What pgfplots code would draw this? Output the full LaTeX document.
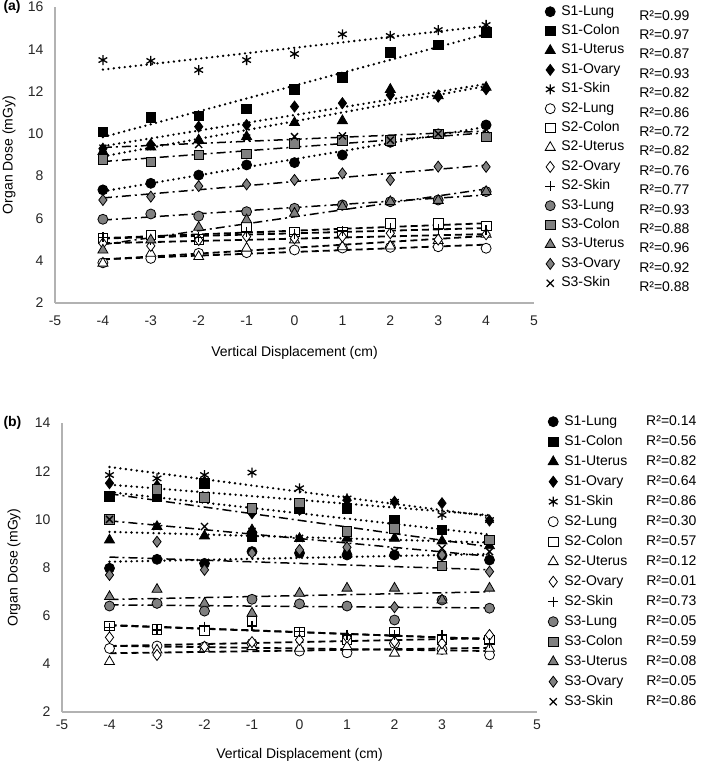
\documentclass[border=0pt]{standalone}
\usepackage{fontspec}
\setmainfont{Liberation Sans}
\usepackage{pgfplots}
\usepackage{pgfplotstable}
\pgfplotsset{compat=1.18}

% panel (a): dose vs displacement
\pgfplotstableread{
x  S1Lung S1Colon S1Uterus S1Ovary S1Skin S2Lung S2Colon S2Uterus S2Ovary S2Skin S3Lung S3Colon S3Uterus S3Ovary S3Skin
-4 7.35 10.10  9.16  9.30 13.49 3.90 5.06 3.88 4.82 5.10 5.96 8.80 4.50 6.87 9.32
-3 7.66 10.78  9.38  9.50 13.45 4.11 5.22 4.35 4.70 5.00 6.21 8.68 4.98 7.03 9.40
-2 8.05 10.84  9.71 10.34 13.02 4.35 5.01 4.19 4.98 5.10 6.11 9.00 5.58 7.53 9.50
-1 8.53 11.18  9.87 10.42 13.49 4.38 5.58 4.59 5.14 5.37 6.32 9.05 5.93 7.61 9.80
 0 8.64 12.11 10.53 11.29 13.78 4.51 5.37 4.98 5.06 5.24 6.48 9.55 6.24 7.82 9.87
 1 9.00 12.68 10.62 11.45 14.71 4.60 5.37 4.66 5.14 5.40 6.64 9.70 6.56 8.13 9.90
 2 9.60 13.86 12.10 11.84 14.63 4.63 5.77 4.69 5.30 5.53 6.79 9.70 6.79 7.82 9.70
 3 10.00 14.20 11.80 11.76 14.91 4.66 5.77 4.95 5.00 5.50 6.87 10.00 6.85 8.45 10.00
 4 10.42 14.79 12.20 12.11 15.15 4.59 5.64 5.25 5.25 5.43 7.27 9.85 7.27 8.44 10.20
}\dataA

% panel (b)
\pgfplotstableread{
x  S1Lung S1Colon S1Uterus S1Ovary S1Skin S2Lung S2Colon S2Uterus S2Ovary S2Skin S3Lung S3Colon S3Uterus S3Ovary S3Skin
-4 7.97 10.94 9.14 11.50 11.84 4.64 5.58 4.09 5.10 5.50 6.40 10.00 6.79 7.69 10.00
-3 8.34 10.94 9.70 11.40 11.70 4.74 5.43 4.57 4.37 5.40 6.51 11.25 7.09 9.07 9.70
-2 8.17 11.50 9.31 11.56 11.84 4.71 5.40 4.64 4.71 5.54 6.19 10.91 6.51 7.90 9.70
-1 8.66 9.28 9.56 10.25 11.94 4.85 5.75 4.71 4.90 5.58 6.68 10.46 6.10 8.60 9.50
 0 8.60 10.46 9.20 10.40 11.29 4.53 5.33 4.64 4.99 5.33 6.49 10.69 6.93 8.73 9.21
 1 8.52 10.46 9.21 10.80 10.87 4.46 5.02 4.71 5.10 5.20 6.40 9.49 7.14 8.84 8.59
 2 8.52 9.97 9.21 10.73 10.73 4.85 5.33 4.44 4.92 5.20 5.82 9.63 7.14 6.35 8.66
 3 8.50 9.56 9.10 10.67 10.18 4.60 5.02 4.53 4.85 5.20 6.65 8.06 6.65 8.52 8.80
 4 8.31 9.14 8.90 9.95 9.97 4.37 5.00 4.64 5.20 4.85 6.31 9.14 7.14 7.83 8.66
}\dataB

\newcommand\fs{\fontsize{14}{16}\selectfont}

% markers plus linear trendline
\newcommand\series[5]{%
  \addplot[#3] table[x=x,y=#2]{#1};
  \addlegendentry{#5}
  \addplot[#4,forget plot] table[x=x,y={create col/linear regression={y=#2}}]{#1};
}

\pgfplotsset{
  blk/.style={only marks, mark options={solid, draw=black, fill=black, line width=0.8pt}},
  opn/.style={only marks, mark options={solid, draw=black, fill=white, line width=0.8pt}},
  gry/.style={only marks, mark options={solid, draw=black, fill=black!50, line width=0.8pt}},
  mc/.style={mark=*, mark size=5pt},
  ms/.style={mark=square*, mark size=4.8pt},
  mt/.style={mark=triangle*, mark size=5.8pt},
  md/.style={mark=diamond*, mark size=5.5pt},
  mk/.style={mark size=5pt, mark options={line width=1.3pt}},
  t1/.style={black, line width=2.6pt, line cap=round, dash pattern=on 0pt off 5.5pt},
  t2/.style={black, line width=1.8pt, dash pattern=on 7pt off 4pt},
  t3/.style={black, line width=1.5pt, dash pattern=on 9pt off 4pt on 2pt off 4pt},
  organ/.style={
    scale only axis, clip=false,
    xmin=-5, xmax=5, xtick={-5,...,5},
    axis x line*=bottom, axis y line*=left,
    axis line style={-, black!30, line width=1.3pt},
    major tick length=0pt,
    tick label style={font=\fs, black!85},
    /pgf/number format/assume math mode=true,
    xlabel={Vertical Displacement (cm)},
    ylabel={Organ Dose (mGy)},
    ylabel style={at={(axis description cs:0,0.5)}, anchor=center, font=\fs},
    xlabel style={at={(axis description cs:0.5,0)}, anchor=center, font=\fs},
    yticklabel style={xshift=-8pt},
    legend image code/.code={\draw[#1] plot coordinates {(5pt,0pt)};},
    legend style={at={(1,1)}, anchor=north west, draw=none, fill=none, font=\fs,
      inner sep=0pt, nodes={inner sep=0pt, text height=10pt, text depth=3pt, anchor=west}},
    legend cell align=left,
  },
}

\begin{document}
\begin{tikzpicture}
\useasboundingbox (0pt,0pt) rectangle (709pt,761pt);
\node[anchor=west, font=\bfseries\fs] at (0pt,754pt) {(a)};
\node[anchor=west, font=\bfseries\fs] at (0pt,338pt) {(b)};

\begin{axis}[organ, at={(55pt,458pt)}, anchor=south west,
    width=479pt, height=296pt, ymin=2, ymax=16, ytick={2,4,...,16},
    xticklabel style={yshift=-9pt},
    xlabel style={yshift=-50pt},
    ylabel style={yshift=46pt},
    legend style={xshift=11pt, yshift=2pt, row sep=6.4pt}]
  \series{\dataA}{S1Lung}{blk, mc}{t1}{\makebox[84pt][l]{\hspace{6pt}S1-Lung}\raisebox{-5pt}[0pt][0pt]{R²=0.99}}
  \series{\dataA}{S1Colon}{blk, ms}{t1}{\makebox[84pt][l]{\hspace{6pt}S1-Colon}\raisebox{-5pt}[0pt][0pt]{R²=0.97}}
  \series{\dataA}{S1Uterus}{blk, mt}{t1}{\makebox[84pt][l]{\hspace{6pt}S1-Uterus}\raisebox{-5pt}[0pt][0pt]{R²=0.87}}
  \series{\dataA}{S1Ovary}{blk, md}{t1}{\makebox[84pt][l]{\hspace{6pt}S1-Ovary}\raisebox{-5pt}[0pt][0pt]{R²=0.93}}
  \series{\dataA}{S1Skin}{blk, mark=asterisk, mk}{t1}{\makebox[84pt][l]{\hspace{6pt}S1-Skin}\raisebox{-5pt}[0pt][0pt]{R²=0.82}}
  \series{\dataA}{S2Lung}{opn, mc}{t2}{\makebox[84pt][l]{\hspace{6pt}S2-Lung}\raisebox{-5pt}[0pt][0pt]{R²=0.86}}
  \series{\dataA}{S2Colon}{opn, ms}{t2}{\makebox[84pt][l]{\hspace{6pt}S2-Colon}\raisebox{-5pt}[0pt][0pt]{R²=0.72}}
  \series{\dataA}{S2Uterus}{opn, mt}{t2}{\makebox[84pt][l]{\hspace{6pt}S2-Uterus}\raisebox{-5pt}[0pt][0pt]{R²=0.82}}
  \series{\dataA}{S2Ovary}{opn, md}{t2}{\makebox[84pt][l]{\hspace{6pt}S2-Ovary}\raisebox{-5pt}[0pt][0pt]{R²=0.76}}
  \series{\dataA}{S2Skin}{blk, mark=+, mk}{t2}{\makebox[84pt][l]{\hspace{6pt}S2-Skin}\raisebox{-5pt}[0pt][0pt]{R²=0.77}}
  \series{\dataA}{S3Lung}{gry, mc}{t3}{\makebox[84pt][l]{\hspace{6pt}S3-Lung}\raisebox{-5pt}[0pt][0pt]{R²=0.93}}
  \series{\dataA}{S3Colon}{gry, ms}{t3}{\makebox[84pt][l]{\hspace{6pt}S3-Colon}\raisebox{-5pt}[0pt][0pt]{R²=0.88}}
  \series{\dataA}{S3Uterus}{gry, mt}{t3}{\makebox[84pt][l]{\hspace{6pt}S3-Uterus}\raisebox{-5pt}[0pt][0pt]{R²=0.96}}
  \series{\dataA}{S3Ovary}{gry, md}{t3}{\makebox[84pt][l]{\hspace{6pt}S3-Ovary}\raisebox{-5pt}[0pt][0pt]{R²=0.92}}
  \series{\dataA}{S3Skin}{blk, mark=x, mk}{t3}{\makebox[84pt][l]{\hspace{6pt}S3-Skin}\raisebox{-5pt}[0pt][0pt]{R²=0.88}}
\end{axis}

\begin{axis}[organ, at={(62pt,49pt)}, anchor=south west,
    width=475pt, height=289pt, ymin=2, ymax=14, ytick={2,4,...,14},
    xticklabel style={yshift=-4pt},
    xlabel style={yshift=-43pt},
    ylabel style={yshift=48pt},
    legend style={xshift=11pt, yshift=8pt, row sep=7pt}]
  \series{\dataB}{S1Lung}{blk, mc}{t1}{\makebox[88pt][l]{\hspace{6pt}S1-Lung}R²=0.14}
  \series{\dataB}{S1Colon}{blk, ms}{t1}{\makebox[88pt][l]{\hspace{6pt}S1-Colon}R²=0.56}
  \series{\dataB}{S1Uterus}{blk, mt}{t1}{\makebox[88pt][l]{\hspace{6pt}S1-Uterus}R²=0.82}
  \series{\dataB}{S1Ovary}{blk, md}{t1}{\makebox[88pt][l]{\hspace{6pt}S1-Ovary}R²=0.64}
  \series{\dataB}{S1Skin}{blk, mark=asterisk, mk}{t1}{\makebox[88pt][l]{\hspace{6pt}S1-Skin}R²=0.86}
  \series{\dataB}{S2Lung}{opn, mc}{t2}{\makebox[88pt][l]{\hspace{6pt}S2-Lung}R²=0.30}
  \series{\dataB}{S2Colon}{opn, ms}{t2}{\makebox[88pt][l]{\hspace{6pt}S2-Colon}R²=0.57}
  \series{\dataB}{S2Uterus}{opn, mt}{t2}{\makebox[88pt][l]{\hspace{6pt}S2-Uterus}R²=0.12}
  \series{\dataB}{S2Ovary}{opn, md}{t2}{\makebox[88pt][l]{\hspace{6pt}S2-Ovary}R²=0.01}
  \series{\dataB}{S2Skin}{blk, mark=+, mk}{t2}{\makebox[88pt][l]{\hspace{6pt}S2-Skin}R²=0.73}
  \series{\dataB}{S3Lung}{gry, mc}{t3}{\makebox[88pt][l]{\hspace{6pt}S3-Lung}R²=0.05}
  \series{\dataB}{S3Colon}{gry, ms}{t3}{\makebox[88pt][l]{\hspace{6pt}S3-Colon}R²=0.59}
  \series{\dataB}{S3Uterus}{gry, mt}{t3}{\makebox[88pt][l]{\hspace{6pt}S3-Uterus}R²=0.08}
  \series{\dataB}{S3Ovary}{gry, md}{t3}{\makebox[88pt][l]{\hspace{6pt}S3-Ovary}R²=0.05}
  \series{\dataB}{S3Skin}{blk, mark=x, mk}{t3}{\makebox[88pt][l]{\hspace{6pt}S3-Skin}R²=0.86}
\end{axis}
\end{tikzpicture}
\end{document}
